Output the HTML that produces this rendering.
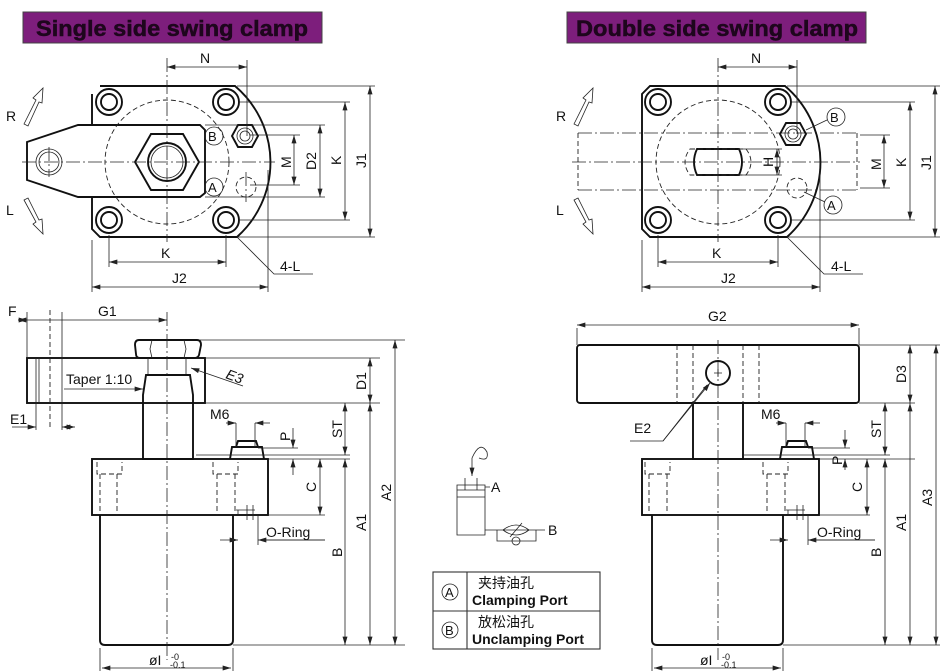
<!DOCTYPE html>
<html><head><meta charset="utf-8"><style>
html,body{margin:0;padding:0;background:#fff;}
svg{display:block;font-family:"Liberation Sans","Noto Sans CJK SC",sans-serif;}
.o{fill:none;stroke:#111;stroke-width:1.9}
.t{fill:none;stroke:#222;stroke-width:0.8}
.d{fill:none;stroke:#222;stroke-width:0.9;stroke-dasharray:5 3}
.c{fill:none;stroke:#222;stroke-width:0.8;stroke-dasharray:14 3 2 3}
.dm{fill:none;stroke:#222;stroke-width:0.8;marker-start:url(#a);marker-end:url(#a)}
.dm1{fill:none;stroke:#222;stroke-width:0.8;marker-end:url(#a)}
text{fill:#111;font-size:14px}
.ti{font-size:22.5px;font-weight:bold;fill:#1e061d;stroke:#1e061d;stroke-width:0.5}
</style></head><body>
<svg width="940" height="671" viewBox="0 0 940 671" xmlns="http://www.w3.org/2000/svg">
<defs>
<marker id="a" viewBox="0 0 10 6" refX="10" refY="3" markerWidth="9" markerHeight="5" orient="auto-start-reverse" markerUnits="userSpaceOnUse"><path d="M0,0 L10,3 L0,6 z" fill="#222"/></marker>
</defs>

<!-- titles -->
<rect x="23" y="12" width="299" height="31" fill="#7d1e7c" stroke="#444"/>
<text x="36" y="36" class="ti" textLength="272" lengthAdjust="spacingAndGlyphs">Single side swing clamp</text>
<rect x="567" y="12" width="299" height="31" fill="#7d1e7c" stroke="#444"/>
<text x="576" y="36" class="ti" textLength="282" lengthAdjust="spacingAndGlyphs">Double side swing clamp</text>

<!-- ============ TOP LEFT plan ============ -->
<path class="o" d="M100,86 L235,86 A100,100 0 0 1 237,237 L100,237 L92,229 L92,197 M92,125 L92,94 Z"/>
<path class="o" d="M27,142 L78,125 L200,125 L205,130 L205,193 L200,197 L78,197 L27,180 Z" fill="#fff"/>
<circle class="d" cx="167" cy="162" r="62"/>
<g class="o">
<circle cx="109" cy="102" r="13"/><circle cx="109" cy="102" r="8"/>
<circle cx="226" cy="102" r="13"/><circle cx="226" cy="102" r="8"/>
<circle cx="109" cy="220" r="13"/><circle cx="109" cy="220" r="8"/>
<circle cx="226" cy="220" r="13"/><circle cx="226" cy="220" r="8"/>
</g>
<path class="o" d="M135,162 L151,134 L183,134 L199,162 L183,190 L151,190 Z"/>
<circle class="o" cx="167" cy="162" r="19"/><circle class="t" cx="167" cy="162" r="16"/>
<circle class="t" cx="49" cy="162" r="13"/><circle class="t" cx="49" cy="162" r="10"/>
<path class="o" d="M232,136 L238,125 L252,125 L258,136 L252,147 L238,147 Z"/>
<circle class="t" cx="245" cy="136" r="8"/><circle class="t" cx="245" cy="136" r="5"/>
<circle class="d" cx="246" cy="187" r="10"/>
<circle class="t" cx="214" cy="136" r="9"/><text x="208" y="141" style="font-size:13px">B</text>
<circle class="t" cx="214" cy="187" r="9"/><text x="208" y="192" style="font-size:13px">A</text>
<path class="c" d="M22,162 L275,162 M167,58 L167,242 M49,147 L49,177 M246,172 L246,202"/>
<!-- dims -->
<path class="t" d="M247,60 L247,136 M237,86 L375,86 M237,237 L375,237 M240,102 L350,102 M240,220 L350,220 M205,125 L325,125 M205,197 L325,197 M250,135 L300,135 M250,185 L300,185 M92,240 L92,292 M268,170 L268,292 M109,235 L109,267 M226,235 L226,267"/>
<path class="dm" d="M167,67 L247,67"/>
<path class="dm" d="M370,86 L370,237"/><path class="dm" d="M345,102 L345,220"/>
<path class="dm" d="M320,125 L320,197"/><path class="dm" d="M294,135 L294,185"/>
<path class="dm" d="M109,262 L226,262"/><path class="dm" d="M92,287 L268,287"/>
<path class="t" d="M237,237 L274,274 L313,274"/>
<text x="200" y="63">N</text><text x="161" y="258">K</text><text x="172" y="283">J2</text><text x="280" y="271">4-L</text>
<text transform="translate(291,160) rotate(-90)" x="-8" y="0">M</text>
<text transform="translate(316,160) rotate(-90)" x="-10" y="0">D2</text>
<text transform="translate(341,160) rotate(-90)" x="-5" y="0">K</text>
<text transform="translate(366,160) rotate(-90)" x="-8" y="0">J1</text>
<text x="6" y="121">R</text><text x="6" y="215">L</text>
<path class="t" d="M24,124 L36,100 L33,98 L43,88 L42,103 L39,102 L28,126 Z"/>
<path class="t" d="M24,200 L36,222 L33,224 L43,234 L42,219 L39,220 L28,198 Z"/>

<!-- ============ TOP RIGHT plan ============ -->
<path class="c" d="M578,133 L857,133 M578,190 L857,190"/>
<path class="d" d="M578,133 L578,190 M857,133 L857,190"/>
<path class="o" d="M650,86 L785,86 A100,100 0 0 1 787,237 L650,237 L642,229 L642,94 Z"/>
<circle class="d" cx="718" cy="162" r="62"/>
<g class="o">
<circle cx="658" cy="102" r="13"/><circle cx="658" cy="102" r="8"/>
<circle cx="778" cy="102" r="13"/><circle cx="778" cy="102" r="8"/>
<circle cx="658" cy="220" r="13"/><circle cx="658" cy="220" r="8"/>
<circle cx="778" cy="220" r="13"/><circle cx="778" cy="220" r="8"/>
</g>
<path class="o" d="M697,149 L739,149 Q745,162 739,175 L697,175 Q691,162 697,149 Z"/>
<path class="d" d="M690,149 L746,149 Q756,162 746,175 L690,175 Q680,162 690,149 Z"/>
<path class="o" d="M780,134 L786,123 L800,123 L806,134 L800,145 L786,145 Z"/>
<circle class="t" cx="793" cy="134" r="8"/><circle class="t" cx="793" cy="134" r="5"/>
<circle class="d" cx="797" cy="188" r="10"/>
<circle class="t" cx="836" cy="117" r="9"/><text x="830" y="122" style="font-size:13px">B</text>
<circle class="t" cx="833" cy="205" r="9"/><text x="827" y="210" style="font-size:13px">A</text>
<path class="t" d="M806,130 L827,120 M804,192 L825,202"/>
<path class="c" d="M572,162 L860,162 M718,58 L718,242"/>
<path class="t" d="M797,60 L797,134 M787,86 L940,86 M787,237 L940,237 M790,102 L915,102 M790,220 L915,220 M860,135 L890,135 M860,188 L890,188 M742,149 L782,149 M742,175 L782,175 M642,240 L642,292 M820,170 L820,292 M658,235 L658,267 M778,235 L778,267"/>
<path class="dm" d="M718,67 L797,67"/>
<path class="dm" d="M935,86 L935,237"/><path class="dm" d="M910,102 L910,220"/>
<path class="dm" d="M884,135 L884,188"/><path class="dm" d="M777,149 L777,175"/>
<path class="dm" d="M658,262 L778,262"/><path class="dm" d="M642,287 L820,287"/>
<path class="t" d="M787,237 L824,274 L863,274"/>
<text x="751" y="63">N</text><text x="712" y="258">K</text><text x="721" y="283">J2</text><text x="831" y="271">4-L</text>
<text transform="translate(773,162) rotate(-90)" x="-5" y="0">H</text>
<text transform="translate(881,162) rotate(-90)" x="-8" y="0">M</text>
<text transform="translate(906,162) rotate(-90)" x="-5" y="0">K</text>
<text transform="translate(931,162) rotate(-90)" x="-8" y="0">J1</text>
<text x="556" y="121">R</text><text x="556" y="215">L</text>
<path class="t" d="M574,124 L586,100 L583,98 L593,88 L592,103 L589,102 L578,126 Z"/>
<path class="t" d="M574,200 L586,222 L583,224 L593,234 L592,219 L589,220 L578,198 Z"/>

<!-- ============ BOTTOM LEFT side ============ -->
<rect class="o" x="27" y="358" width="178" height="45"/>
<path class="t" d="M36,358 L36,403 M39,358 L39,403 M62,358 L62,403"/>
<path class="d" d="M50,310 L50,430"/>
<path class="o" d="M139,340 L197,340 Q201,340 201,345 L199,355 Q198,358 194,358 L140,358 Q136,358 136,354 L135,345 Q135,340 139,340 Z"/>
<path class="t" d="M152,340 L150,349 L152,358 M184,340 L186,349 L184,358 M148,358 L148,375 M186,358 L186,375"/>
<path class="o" d="M146,375 L190,375 L193,395 L193,459 L143,459 L143,395 Z" fill="#fff"/>
<rect class="o" x="92" y="459" width="176" height="56"/>
<path class="o" d="M100,515 L100,640 Q100,645 105,645 L228,645 Q233,645 233,640 L233,515"/>
<path class="d" d="M97,462 L97,474 L122,474 L122,462 M100,474 L100,515 M117,474 L117,515 M213,462 L213,474 L238,474 L238,462 M217,474 L217,515 M235,474 L235,515"/>
<path class="t" d="M238,510 L238,515 M247,505 L247,520 M253,505 L253,520 M236,510 L255,510"/>
<path class="o" d="M230,459 L232,447 L262,447 L264,459 M236,447 L238,441 L256,441 L258,447"/>
<path class="c" d="M167,312 L167,660"/>
<!-- dims -->
<path class="t" d="M27,312 L27,358 M62,312 L62,358 M36,403 L36,430 M62,403 L62,430 M200,340 L405,340 M205,358 L380,358 M205,403 L380,403 M196,455 L350,455 M268,459 L350,459 M268,515 L325,515 M233,645 L405,645 M100,648 L100,671 M233,648 L233,671 M236,423 L236,447 M255,423 L255,447 M258,448 L298,448 M258,515 L258,545"/>
<path class="dm" d="M18,320 L167,320"/><path class="dm1" d="M18,320 L27,320"/>
<path class="dm" d="M62,427 L75,427"/><path class="dm1" d="M12,427 L36,427"/>
<path class="dm" d="M395,340 L395,645"/><path class="dm" d="M370,358 L370,403"/>
<path class="dm" d="M370,403 L370,645"/><path class="dm" d="M345,459 L345,645"/>
<path class="dm" d="M345,403 L345,455"/><path class="dm" d="M320,459 L320,515"/>
<path class="dm1" d="M293,428 L293,448"/><path class="dm1" d="M293,475 L293,459"/>
<path class="dm1" d="M226,423 L236,423"/><path class="dm1" d="M270,423 L255,423"/>
<path class="dm1" d="M220,540 L238,540"/><path class="dm1" d="M325,540 L258,540"/><path class="t" d="M262,540 L325,540"/>
<path class="dm1" d="M64,389 L143,389"/>
<path class="dm1" d="M243,386 L191,368"/>
<path class="dm" d="M102,668 L231,668"/>
<text x="8" y="316">F</text><text x="98" y="316">G1</text><text x="10" y="424">E1</text>
<text x="66" y="384">Taper 1:10</text>
<text x="225" y="378" transform="rotate(20,225,378)" style="font-style:italic">E3</text>
<text x="210" y="419">M6</text><text x="266" y="537">O-Ring</text>
<text transform="translate(290,436) rotate(-90)" x="-5" y="0">P</text>
<text transform="translate(366,381) rotate(-90)" x="-9" y="0">D1</text>
<text transform="translate(342,429) rotate(-90)" x="-9" y="0">ST</text>
<text transform="translate(316,487) rotate(-90)" x="-5" y="0">C</text>
<text transform="translate(342,552) rotate(-90)" x="-5" y="0">B</text>
<text transform="translate(366,522) rotate(-90)" x="-9" y="0">A1</text>
<text transform="translate(391,492) rotate(-90)" x="-9" y="0">A2</text>
<text x="149" y="665">øI</text><text x="171" y="660" style="font-size:9px">-0</text><text x="170" y="668" style="font-size:9px">-0.1</text>

<!-- ============ BOTTOM RIGHT side ============ -->
<rect class="o" x="577" y="345" width="282" height="58" rx="3"/>
<path class="d" d="M677,345 L677,403 M693,345 L693,403 M743,345 L743,403 M759,345 L759,403"/>
<circle class="o" cx="718" cy="373" r="12"/>
<path class="t" d="M714,373 L722,373 M718,369 L718,377"/>
<rect class="o" x="693" y="403" width="50" height="56"/>
<rect class="o" x="642" y="459" width="177" height="56"/>
<path class="o" d="M652,515 L652,640 Q652,645 657,645 L778,645 Q783,645 783,640 L783,515"/>
<path class="d" d="M645,462 L645,474 L670,474 L670,462 M649,474 L649,515 M667,474 L667,515 M763,462 L763,474 L788,474 L788,462 M767,474 L767,515 M785,474 L785,515"/>
<path class="t" d="M788,510 L788,515 M797,505 L797,520 M803,505 L803,520 M786,510 L805,510"/>
<path class="o" d="M780,459 L782,447 L812,447 L814,459 M786,447 L788,441 L806,441 L808,447"/>
<path class="c" d="M718,340 L718,660"/>
<path class="t" d="M577,328 L577,345 M859,328 L859,345 M859,345 L940,345 M859,403 L915,403 M743,455 L890,455 M819,459 L915,459 M819,515 L870,515 M783,645 L940,645 M652,648 L652,671 M783,648 L783,671 M786,423 L786,447 M805,423 L805,447 M808,448 L850,448 M808,515 L808,545 M630,441 L663,441 L707,385"/>
<path class="dm1" d="M663,441 L710,383"/>
<path class="dm" d="M577,325 L859,325"/>
<path class="dm" d="M936,345 L936,645"/><path class="dm" d="M910,345 L910,403"/>
<path class="dm" d="M910,403 L910,645"/><path class="dm" d="M885,459 L885,645"/>
<path class="dm" d="M885,403 L885,455"/><path class="dm" d="M867,459 L867,515"/>
<path class="dm1" d="M845,430 L845,448"/><path class="dm1" d="M845,470 L845,459"/>
<path class="dm1" d="M776,423 L786,423"/><path class="dm1" d="M820,423 L805,423"/>
<path class="dm1" d="M770,540 L788,540"/><path class="dm1" d="M875,540 L808,540"/><path class="t" d="M812,540 L875,540"/>
<path class="dm" d="M654,668 L781,668"/>
<text x="708" y="321">G2</text><text x="634" y="433">E2</text>
<text x="761" y="419">M6</text><text x="817" y="537">O-Ring</text>
<text transform="translate(842,460) rotate(-90)" x="-5" y="0">P</text>
<text transform="translate(862,487) rotate(-90)" x="-5" y="0">C</text>
<text transform="translate(906,374) rotate(-90)" x="-9" y="0">D3</text>
<text transform="translate(881,429) rotate(-90)" x="-9" y="0">ST</text>
<text transform="translate(881,552) rotate(-90)" x="-5" y="0">B</text>
<text transform="translate(906,522) rotate(-90)" x="-9" y="0">A1</text>
<text transform="translate(932,497) rotate(-90)" x="-9" y="0">A3</text>
<text x="700" y="665">øI</text><text x="722" y="660" style="font-size:9px">-0</text><text x="721" y="668" style="font-size:9px">-0.1</text>

<!-- ============ schematic ============ -->
<path class="t" d="M457,485 L485,485 L485,535 L457,535 Z M457,490 L485,490 M457,497 L485,497 M465,478 L465,490 M477,478 L477,490 M485,487 L490,487 M485,530 L497,530 M497,530 L497,541 L536,541 L536,530 L497,530 M536,530 L545,530 M503,530 Q516,520 529,530 M503,530 Q516,540 529,530 M510,537 L522,523"/>
<path class="dm1" d="M472,458 L472,476"/>
<path class="t" d="M472,458 Q480,440 487,452 Q489,462 479,458"/>
<circle class="t" cx="516" cy="541" r="4" fill="#fff"/>
<text x="491" y="492">A</text><text x="548" y="535">B</text>

<!-- table -->
<rect x="433" y="572" width="167" height="77" fill="none" stroke="#333" stroke-width="1.1"/>
<path d="M433,611 L600,611 M467,572 L467,649" stroke="#333" stroke-width="1.1"/>
<circle class="t" cx="450" cy="592" r="8"/><text x="445" y="597" style="font-size:13px">A</text>
<circle class="t" cx="450" cy="630" r="8"/><text x="445" y="635" style="font-size:13px">B</text>
<text x="478" y="588">夹持油孔</text>
<text x="472" y="605" style="font-weight:bold">Clamping Port</text>
<text x="478" y="627">放松油孔</text>
<text x="472" y="644" style="font-weight:bold">Unclamping Port</text>
</svg>
</body></html>
